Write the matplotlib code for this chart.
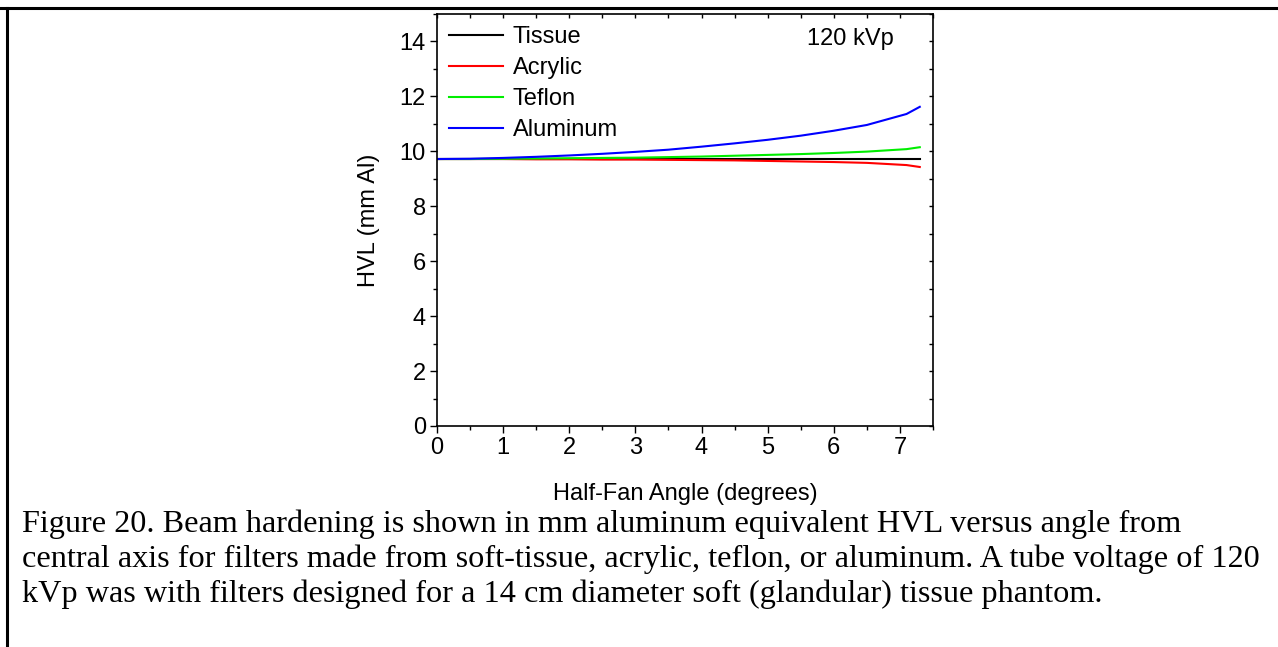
import matplotlib.pyplot as plt
from matplotlib.ticker import MultipleLocator

# half-fan angle (degrees)
angle = [0.0, 0.5, 1.0, 1.5, 2.0, 2.5, 3.0, 3.5, 4.0, 4.5, 5.0, 5.5, 6.0, 6.5, 7.1, 7.3]

# HVL (mm Al) per filter material
tissue = [9.72, 9.72, 9.72, 9.72, 9.72, 9.72, 9.72, 9.72, 9.72, 9.72, 9.72, 9.72, 9.72, 9.72, 9.72, 9.72]
acrylic = [9.72, 9.72, 9.72, 9.71, 9.71, 9.70, 9.70, 9.69, 9.68, 9.67, 9.65, 9.63, 9.61, 9.58, 9.50, 9.43]
teflon = [9.72, 9.72, 9.73, 9.74, 9.75, 9.76, 9.77, 9.79, 9.81, 9.84, 9.87, 9.90, 9.94, 9.99, 10.08, 10.15]
aluminum = [9.72, 9.73, 9.76, 9.80, 9.85, 9.91, 9.98, 10.06, 10.17, 10.29, 10.42, 10.57, 10.75, 10.96, 11.36, 11.62]

series = [("Tissue", tissue, "black"), ("Acrylic", acrylic, "red"),
          ("Teflon", teflon, "#00ee00"), ("Aluminum", aluminum, "blue")]

caption_lines = [
    "Figure 20. Beam hardening is shown in mm aluminum equivalent HVL versus angle from",
    "central axis for filters made from soft-tissue, acrylic, teflon, or aluminum. A tube voltage of 120",
    "kVp was with filters designed for a 14 cm diameter soft (glandular) tissue phantom.",
]

W, H = 1278, 647
fig = plt.figure(figsize=(W / 100, H / 100), dpi=100)
sans = "Liberation Sans"
serif = "Liberation Serif"
fs = 17

ax = fig.add_axes([437 / W, 1 - 426 / H, (933 - 437) / W, (426 - 14) / H])
for name, vals, col in series:
    ax.plot(angle, vals, color=col, lw=1.5, label=name)

ax.set_xlim(0, 7.5)
ax.set_ylim(0, 15)
ax.xaxis.set_major_locator(MultipleLocator(1))
ax.xaxis.set_minor_locator(MultipleLocator(0.5))
ax.yaxis.set_major_locator(MultipleLocator(2))
ax.yaxis.set_minor_locator(MultipleLocator(1))
ax.tick_params(which="both", direction="out", top=False, right=False, width=1)
ax.tick_params(which="major", length=5, labelsize=fs, pad=3)
ax.tick_params(which="minor", length=3)
for lab in ax.get_xticklabels() + ax.get_yticklabels():
    lab.set_fontfamily(sans)

# short inward ticks on top and right spines
sec_x = ax.secondary_xaxis("top")
sec_x.xaxis.set_major_locator(MultipleLocator(0.5))
sec_x.tick_params(which="both", direction="in", labeltop=False, length=3, width=1)
sec_x.spines["top"].set_visible(False)
sec_y = ax.secondary_yaxis("right")
sec_y.yaxis.set_major_locator(MultipleLocator(1))
sec_y.tick_params(which="both", direction="in", labelright=False, length=3, width=1)
sec_y.spines["right"].set_visible(False)

for s in ax.spines.values():
    s.set_linewidth(1.2)

ax.set_xlabel("Half-Fan Angle (degrees)", fontsize=fs, family=sans, labelpad=17)
ax.set_ylabel("HVL (mm Al)", fontsize=fs, family=sans, labelpad=14)

ax.legend(loc="upper left", frameon=False, prop={"family": sans, "size": fs},
          handlelength=2.3, handletextpad=0.4, labelspacing=0.39,
          borderaxespad=0.25, borderpad=0.25)
ax.text(0.833, 0.94, "120 kVp", transform=ax.transAxes, fontsize=fs,
        family=sans, ha="center", va="center")

for i, line in enumerate(caption_lines):
    fig.text(22 / W, 1 - (532 + 35 * i) / H, line, fontsize=23.2, family=serif,
             ha="left", va="baseline")

# page frame: top and left rules
fig.add_artist(plt.Line2D([0, 1], [1 - 8 / H, 1 - 8 / H], color="black", lw=2.2,
                          transform=fig.transFigure))
fig.add_artist(plt.Line2D([7 / W, 7 / W], [0, 1 - 8 / H], color="black", lw=2.2,
                          transform=fig.transFigure))

fig.savefig("out.png", dpi=100)
